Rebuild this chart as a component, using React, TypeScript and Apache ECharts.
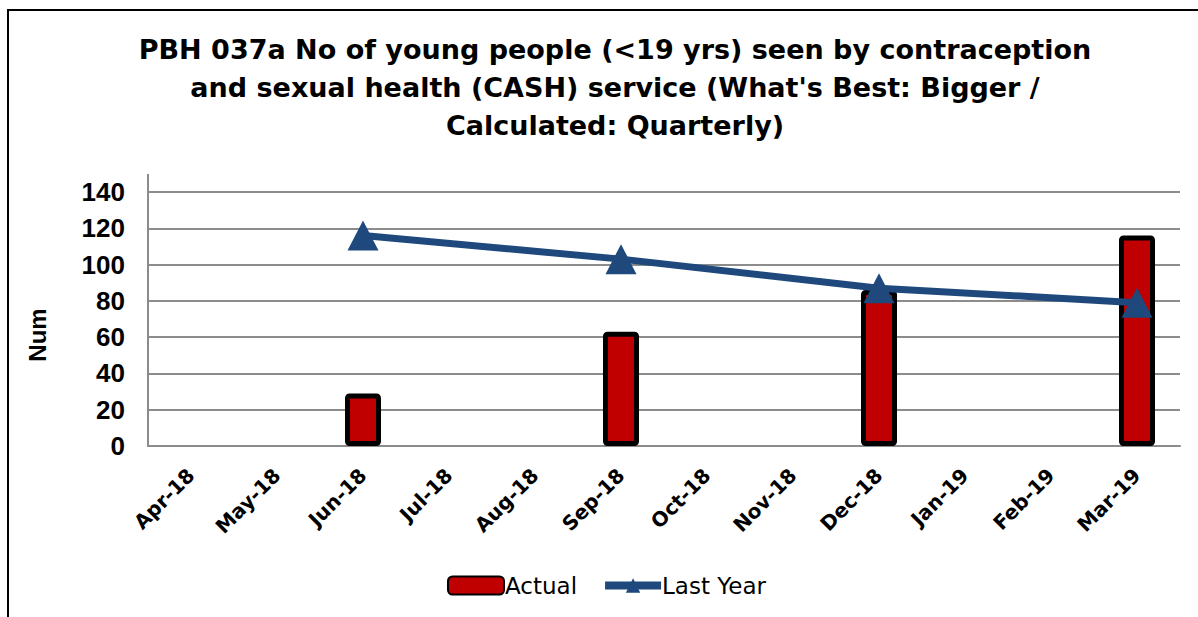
import React, { useEffect, useRef } from "react";
import * as echarts from "echarts";

const titleText =
  "PBH 037a No of young people (<19 yrs) seen by contraception\nand sexual health (CASH) service (What's Best: Bigger /\nCalculated: Quarterly)";

const months = [
  "Apr-18", "May-18", "Jun-18", "Jul-18", "Aug-18", "Sep-18",
  "Oct-18", "Nov-18", "Dec-18", "Jan-19", "Feb-19", "Mar-19",
];

const actual = [null, null, 29, null, null, 63, null, null, 86, null, null, 116];
const lastYear = [null, null, 116, null, null, 103, null, null, 87, null, null, 79];

const yTicks = { min: 0, max: 140, interval: 20 };

const FONT = "'DejaVu Sans', Arial, sans-serif";
const ARIAL = "'Liberation Sans', Arial, sans-serif";
const RED = "#C00000";
const BLUE = "#1F497D";
const GRID = "#8c8c8c";

export default function App() {
  const ref = useRef<HTMLDivElement>(null);

  useEffect(() => {
    if (!ref.current) return;
    const chart = echarts.init(ref.current, null, { renderer: "svg" });
    chart.setOption({
      animation: false,
      backgroundColor: "#ffffff",
      textStyle: { fontFamily: FONT },
      title: {
        text: titleText,
        left: 610,
        top: 25,
        textAlign: "center",
        textStyle: {
          fontFamily: FONT,
          fontWeight: "bold",
          fontSize: 27,
          lineHeight: 38,
          color: "#000",
        },
      },
      grid: { left: 148, right: 18, top: 192, bottom: 171, containLabel: false },
      legend: {
        bottom: 15,
        left: 442,
        itemGap: 24,
        itemWidth: 56,
        itemHeight: 18,
        textStyle: { fontFamily: FONT, fontSize: 23, color: "#000", padding: [0, 0, 0, -4] },
        data: [
          { name: "Actual", icon: "roundRect" },
          { name: "Last Year", lineStyle: { width: 8 } },
        ],
      },
      xAxis: {
        type: "category",
        data: months,
        axisLine: { lineStyle: { color: GRID, width: 2 } },
        axisTick: { show: false },
        axisLabel: {
          rotate: 45,
          interval: 0,
          margin: 26,
          fontFamily: FONT,
          fontWeight: "bold",
          fontSize: 20,
          color: "#000",
        },
      },
      yAxis: {
        type: "value",
        min: yTicks.min,
        max: yTicks.max,
        interval: yTicks.interval,
        axisLine: { show: true, lineStyle: { color: GRID, width: 2 } },
        axisTick: { show: false },
        splitLine: { lineStyle: { color: GRID, width: 2 } },
        axisLabel: {
          margin: 23,
          fontFamily: ARIAL,
          fontWeight: "bold",
          fontSize: 26,
          color: "#000",
        },
      },
      series: [
        {
          name: "Actual",
          type: "bar",
          data: actual,
          barWidth: 36,
          itemStyle: { color: RED, borderColor: "#000", borderWidth: 5, borderRadius: 2 },
        },
        {
          name: "Last Year",
          type: "line",
          data: lastYear,
          connectNulls: true,
          symbol: "triangle",
          symbolSize: [31, 30],
          lineStyle: { color: BLUE, width: 7 },
          itemStyle: { color: BLUE },
          z: 3,
        },
      ],
      graphic: [
        {
          type: "polyline",
          shape: { points: [[8, 617], [8, 10], [1198, 10]] },
          style: { stroke: "#000", lineWidth: 2, fill: null },
        },
        {
          type: "line",
          shape: { x1: 148, y1: 174, x2: 148, y2: 192 },
          style: { stroke: GRID, lineWidth: 2 },
        },
        {
          type: "text",
          x: 37,
          y: 335,
          rotation: Math.PI / 2,
          style: {
            text: "Num",
            fontFamily: ARIAL,
            fontWeight: "bold",
            fontSize: 24,
            fill: "#000",
            align: "center",
            verticalAlign: "middle",
          },
        },
      ],
    });
    return () => chart.dispose();
  }, []);

  return (
    <div
      ref={ref}
      style={{ width: 1198, height: 617, position: "fixed", left: 0, top: 0 }}
    />
  );
}
